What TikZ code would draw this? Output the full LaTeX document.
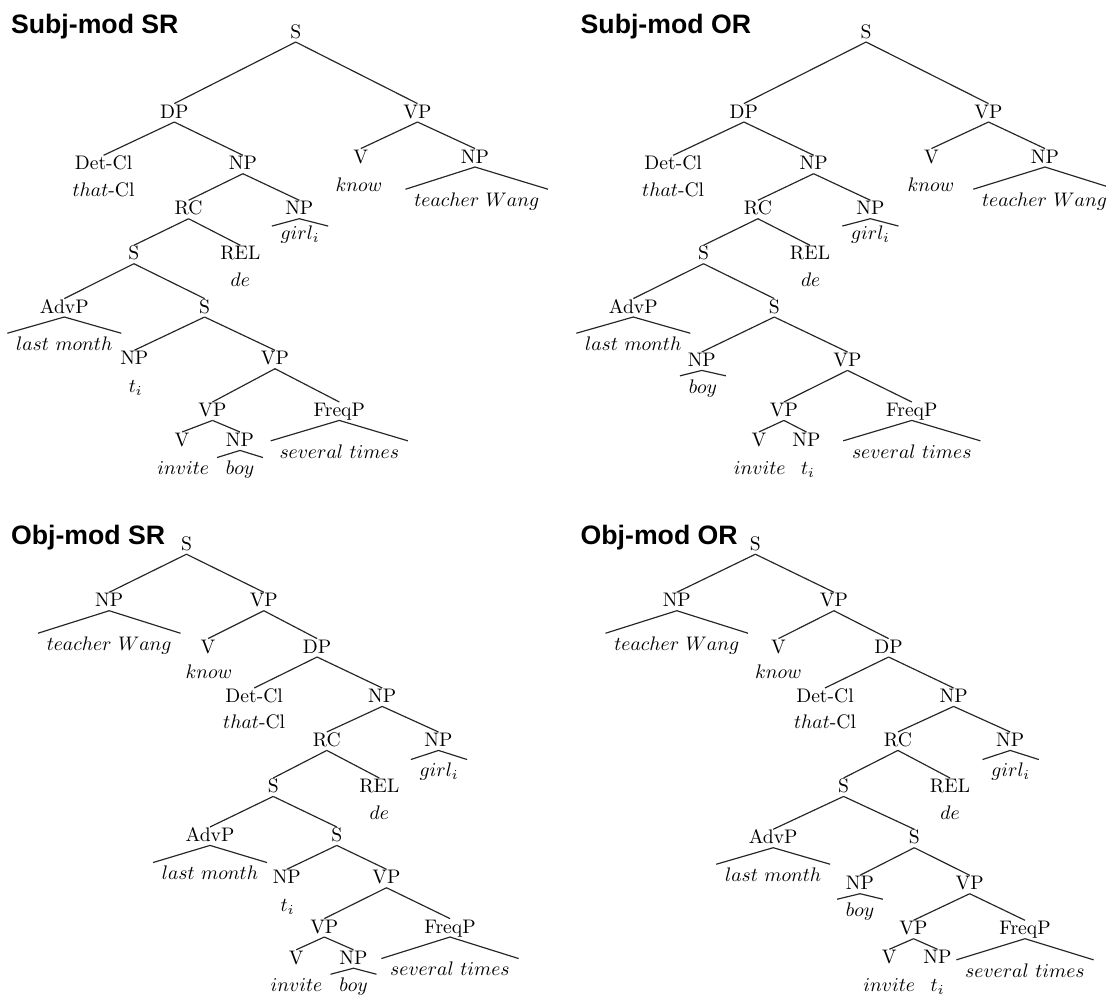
\documentclass[tikz,border=0pt]{standalone}
\usepackage{fontspec}
\newfontfamily\titlefont{Liberation Sans}
\tikzset{
  nt/.style={anchor=base, inner xsep=0pt, inner ysep=0.4pt, text height=6.9pt, text depth=1.3pt},
  lf/.style={anchor=base, inner xsep=4.3pt, inner ysep=1.7pt, text height=7pt, text depth=2pt},
  lfs/.style={lf, inner ysep=0pt, text height=6.9pt},
  plain/.style={anchor=base, inner sep=0pt},
  br/.style={line width=0.6pt, black!85},
  ttl/.style={anchor=base west, inner sep=0pt, font=\titlefont\bfseries\fontsize{13.6}{16}\selectfont},
}
\newcommand\tbr[2]{\draw[br] (#1.south) -- (#2.north);}
\newcommand\troof[2]{\draw[br] (#2.north west) -- (#1.south) -- (#2.north east);}
\begin{document}
\begin{tikzpicture}[x=0.51pt, y=-0.51pt]
\useasboundingbox (0,0) rectangle (1106,997);
% ---------------- Subj-mod SR ----------------
\node[ttl] (aT) at (10.7,33.3) {Subj-mod SR};
\node[nt] (aS) at (295.7,38.3) {S};
\node[nt] (aDP) at (174.3,118.3) {DP};
\node[nt] (aVP) at (417.5,118.3) {VP};
\node[nt] (aDet) at (103.6,170) {Det-Cl};
\node[nt] (aNP) at (242.9,170) {NP};
\node[plain] (athat) at (103.6,196.7) {$that$-Cl};
\node[nt] (aV) at (360.8,163.3) {V};
\node[nt] (aNPo) at (475,163.3) {NP};
\node[plain] (aknow) at (358.9,191.7) {$know$};
\node[lf] (atw) at (476.8,206.7) {$teacher\ Wang$};
\node[nt] (aRC) at (188.6,215) {RC};
\node[nt] (aNPg) at (299.3,215) {NP};
\node[lfs] (agirl) at (300,240) {$girl_i$};
\node[nt] (aS1) at (133.9,260) {S};
\node[nt] (aREL) at (240.3,260) {REL};
\node[plain] (ade) at (240.3,286.7) {$de$};
\node[nt] (aAdv) at (64.3,313.3) {AdvP};
\node[nt] (aS2) at (204.6,313.3) {S};
\node[lf] (alm) at (64.3,350.7) {$last\ month$};
\node[nt] (aNPs) at (134.3,365) {NP};
\node[nt] (aVP1) at (275,365) {VP};
\node[plain] (at) at (135.7,392.3) {$t_i$};
\node[nt] (aVP2) at (212.5,416.7) {VP};
\node[nt] (aFq) at (339.3,416.7) {FreqP};
\node[lf] (ast) at (339.3,458.3) {$several\ times$};
\node[nt] (aV2) at (182.1,446.7) {V};
\node[nt] (aNP2) at (240,446.7) {NP};
\node[plain] (ainv) at (183.2,475) {$invite$};
\node[lf] (aboy) at (240,475) {$boy$};
\tbr{aS}{aDP} \tbr{aS}{aVP} \tbr{aDP}{aDet} \tbr{aDP}{aNP}
\tbr{aVP}{aV} \tbr{aVP}{aNPo} \troof{aNPo}{atw}
\tbr{aNP}{aRC} \tbr{aNP}{aNPg} \troof{aNPg}{agirl}
\tbr{aRC}{aS1} \tbr{aRC}{aREL} \tbr{aS1}{aAdv} \tbr{aS1}{aS2}
\troof{aAdv}{alm} \tbr{aS2}{aNPs} \tbr{aS2}{aVP1}
\tbr{aVP1}{aVP2} \tbr{aVP1}{aFq} \troof{aFq}{ast}
\tbr{aVP2}{aV2} \tbr{aVP2}{aNP2} \troof{aNP2}{aboy}
% ---------------- Subj-mod OR ----------------
\node[ttl] (bT) at (580.3,33.3) {Subj-mod OR};
\node[nt] (bS) at (866.1,38.3) {S};
\node[nt] (bDP) at (743.9,118.3) {DP};
\node[nt] (bVP) at (988.5,118.3) {VP};
\node[nt] (bDet) at (673.2,170) {Det-Cl};
\node[nt] (bNP) at (813.6,170) {NP};
\node[plain] (bthat) at (673.2,196.7) {$that$-Cl};
\node[nt] (bV) at (931.4,163.3) {V};
\node[nt] (bNPo) at (1045,163.3) {NP};
\node[plain] (bknow) at (930.9,191.7) {$know$};
\node[lf] (btw) at (1044.5,206.7) {$teacher\ Wang$};
\node[nt] (bRC) at (757.9,215) {RC};
\node[nt] (bNPg) at (870.4,215) {NP};
\node[lfs] (bgirl) at (870.4,240) {$girl_i$};
\node[nt] (bS1) at (703.5,260) {S};
\node[nt] (bREL) at (810,260) {REL};
\node[plain] (bde) at (810.7,286.7) {$de$};
\node[nt] (bAdv) at (633.3,313.3) {AdvP};
\node[nt] (bS2) at (774.3,313.3) {S};
\node[lf] (blm) at (633.3,350.7) {$last\ month$};
\node[nt] (bNPs) at (701.8,366.7) {NP};
\node[nt] (bVP1) at (847.5,366.7) {VP};
\node[lf] (bboy) at (702.9,393.3) {$boy$};
\node[nt] (bVP2) at (783.9,416.7) {VP};
\node[nt] (bFq) at (911.8,416.7) {FreqP};
\node[lf] (bst) at (911.8,458.3) {$several\ times$};
\node[nt] (bV2) at (758.9,446.7) {V};
\node[nt] (bNP2) at (806.4,446.7) {NP};
\node[plain] (binv) at (759.7,475) {$invite$};
\node[plain] (bt) at (807.9,475) {$t_i$};
\tbr{bS}{bDP} \tbr{bS}{bVP} \tbr{bDP}{bDet} \tbr{bDP}{bNP}
\tbr{bVP}{bV} \tbr{bVP}{bNPo} \troof{bNPo}{btw}
\tbr{bNP}{bRC} \tbr{bNP}{bNPg} \troof{bNPg}{bgirl}
\tbr{bRC}{bS1} \tbr{bRC}{bREL} \tbr{bS1}{bAdv} \tbr{bS1}{bS2}
\troof{bAdv}{blm} \tbr{bS2}{bNPs} \tbr{bS2}{bVP1} \troof{bNPs}{bboy}
\tbr{bVP1}{bVP2} \tbr{bVP1}{bFq} \troof{bFq}{bst}
\tbr{bVP2}{bV2} \tbr{bVP2}{bNP2}
% ---------------- Obj-mod SR ----------------
\node[ttl] (cT) at (10.7,545) {Obj-mod SR};
\node[nt] (cS) at (186.5,550.5) {S};
\node[nt] (cNP) at (109.2,607) {NP};
\node[nt] (cVP) at (263.8,607) {VP};
\node[lf] (ctw) at (109.2,650.7) {$teacher\ Wang$};
\node[nt] (cV) at (208.1,653.3) {V};
\node[nt] (cDP) at (317.1,653.3) {DP};
\node[plain] (cknow) at (208.9,678.3) {$know$};
\node[nt] (cDet) at (254.2,702.7) {Det-Cl};
\node[nt] (cNPr) at (382.2,702.7) {NP};
\node[plain] (cthat) at (254.2,728.3) {$that$-Cl};
\node[nt] (cRC) at (326.8,746.7) {RC};
\node[nt] (cNPg) at (438.5,746.7) {NP};
\node[lf] (cgirl) at (439,777) {$girl_i$};
\node[nt] (cS1) at (273.2,792.7) {S};
\node[nt] (cREL) at (379.3,792.7) {REL};
\node[plain] (cde) at (379.3,819.3) {$de$};
\node[nt] (cAdv) at (210,841.7) {AdvP};
\node[nt] (cS2) at (336.8,841.7) {S};
\node[lf] (clm) at (210,880) {$last\ month$};
\node[nt] (cNPs) at (286.8,884) {NP};
\node[nt] (cVP1) at (386.5,884) {VP};
\node[plain] (ct) at (287.5,911.7) {$t_i$};
\node[nt] (cVP2) at (324.3,933.3) {VP};
\node[nt] (cFq) at (450,933.3) {FreqP};
\node[lf] (cst) at (450,976) {$several\ times$};
\node[nt] (cV2) at (296.2,964.5) {V};
\node[nt] (cNP2) at (353.5,964.5) {NP};
\node[plain] (cinv) at (296.5,991.7) {$invite$};
\node[lf] (cboy) at (353.5,991.7) {$boy$};
\tbr{cS}{cNP} \tbr{cS}{cVP} \troof{cNP}{ctw}
\tbr{cVP}{cV} \tbr{cVP}{cDP} \tbr{cDP}{cDet} \tbr{cDP}{cNPr}
\tbr{cNPr}{cRC} \tbr{cNPr}{cNPg} \troof{cNPg}{cgirl}
\tbr{cRC}{cS1} \tbr{cRC}{cREL} \tbr{cS1}{cAdv} \tbr{cS1}{cS2}
\troof{cAdv}{clm} \tbr{cS2}{cNPs} \tbr{cS2}{cVP1}
\tbr{cVP1}{cVP2} \tbr{cVP1}{cFq} \troof{cFq}{cst}
\tbr{cVP2}{cV2} \tbr{cVP2}{cNP2} \troof{cNP2}{cboy}
% ---------------- Obj-mod OR ----------------
\node[ttl] (dT) at (580.3,545) {Obj-mod OR};
\node[nt] (dS) at (755.4,550.5) {S};
\node[nt] (dNP) at (676.8,607) {NP};
\node[nt] (dVP) at (833.9,607) {VP};
\node[lf] (dtw) at (676.8,650.7) {$teacher\ Wang$};
\node[nt] (dV) at (778.5,653.3) {V};
\node[nt] (dDP) at (888.6,653.3) {DP};
\node[plain] (dknow) at (778.5,678.3) {$know$};
\node[nt] (dDet) at (825,702.7) {Det-Cl};
\node[nt] (dNPr) at (953.6,702.7) {NP};
\node[plain] (dthat) at (825,728.3) {$that$-Cl};
\node[nt] (dRC) at (897.9,746.7) {RC};
\node[nt] (dNPg) at (1010.2,746.7) {NP};
\node[lf] (dgirl) at (1010.7,777) {$girl_i$};
\node[nt] (dS1) at (843.6,792.7) {S};
\node[nt] (dREL) at (950,792.7) {REL};
\node[plain] (dde) at (950,819.3) {$de$};
\node[nt] (dAdv) at (773.2,844) {AdvP};
\node[nt] (dS2) at (914.3,844) {S};
\node[lf] (dlm) at (773.2,881.7) {$last\ month$};
\node[nt] (dNPs) at (860,890) {NP};
\node[nt] (dVP1) at (969.7,890) {VP};
\node[lf] (dboy) at (860,916.7) {$boy$};
\node[nt] (dVP2) at (913.5,935) {VP};
\node[nt] (dFq) at (1025,935) {FreqP};
\node[lf] (dst) at (1025,977.3) {$several\ times$};
\node[nt] (dV2) at (889.3,964) {V};
\node[nt] (dNP2) at (937.5,964) {NP};
\node[plain] (dinv) at (889.3,991.7) {$invite$};
\node[plain] (dt) at (937.5,991.7) {$t_i$};
\tbr{dS}{dNP} \tbr{dS}{dVP} \troof{dNP}{dtw}
\tbr{dVP}{dV} \tbr{dVP}{dDP} \tbr{dDP}{dDet} \tbr{dDP}{dNPr}
\tbr{dNPr}{dRC} \tbr{dNPr}{dNPg} \troof{dNPg}{dgirl}
\tbr{dRC}{dS1} \tbr{dRC}{dREL} \tbr{dS1}{dAdv} \tbr{dS1}{dS2}
\troof{dAdv}{dlm} \tbr{dS2}{dNPs} \tbr{dS2}{dVP1} \troof{dNPs}{dboy}
\tbr{dVP1}{dVP2} \tbr{dVP1}{dFq} \troof{dFq}{dst}
\tbr{dVP2}{dV2} \tbr{dVP2}{dNP2}
\end{tikzpicture}
\end{document}
